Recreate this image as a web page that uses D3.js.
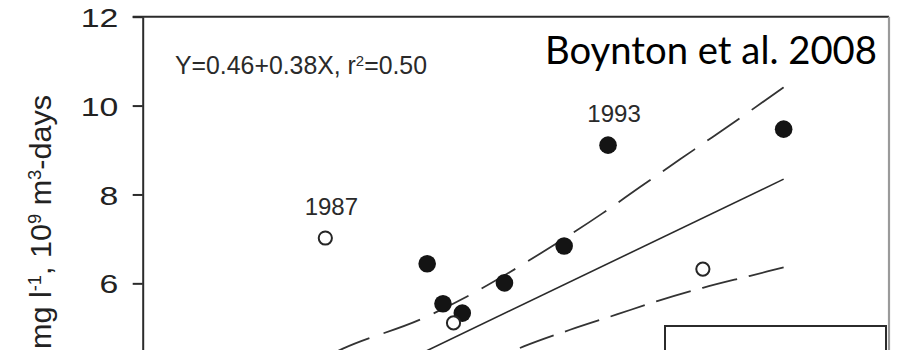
<!DOCTYPE html>
<html>
<head>
<meta charset="utf-8">
<script src="https://cdn.jsdelivr.net/npm/d3@7/dist/d3.min.js"></script>
<style>
  html, body { margin: 0; padding: 0; background: #fff; }
  svg { display: block; }
</style>
</head>
<body>
<svg id="chart" width="900" height="350"></svg>
<script>
// Hypoxic volume-days against load, with least-squares fit and confidence band
const yTicks = [6, 8, 10, 12];

// filled symbols (years used in the fit)
const filledX = [10.6, 11.05, 11.6, 12.8, 14.5, 15.75, 20.75];
const filledY = [6.44, 5.54, 5.33, 6.01, 6.84, 9.11, 9.47];

// open symbols (years excluded from the fit)
const openX = [7.7, 11.35, 18.45];
const openY = [7.02, 5.11, 6.32];

// annotated years
const labelYears = ["1987", "1993"];
const labelX = [7.7, 15.75];
const labelY = [7.02, 9.11];

// regression Y = a + bX
const fitA = 0.46;
const fitB = 0.38;
const fitR2 = 0.50;
const fitRange = [7.7, 20.75];

// 95% confidence band
const upperX = [7.9, 8.2, 10.5, 11.75, 12.95, 13.8, 15.6, 16.65, 17.8, 18.5, 19.4, 20.75];
const upperY = [4.42, 4.53, 5.22, 5.71, 6.25, 6.66, 7.58, 8.16, 8.79, 9.17, 9.66, 10.41];
const lowerX = [13.1, 13.35, 14.65, 16.0, 17.15, 18.45, 19.8, 20.75];
const lowerY = [4.5, 4.58, 4.95, 5.3, 5.6, 5.9, 6.17, 6.36];

(function () {
  const svg = d3.select("#chart");
  const mLeft = 142.7, mRight = 889, mTop = 16.7, mBottom = 350;

  const x = d3.scaleLinear().domain([2.5, 23.75]).range([mLeft, mRight]);
  const y = d3.scaleLinear().domain([4.5, 12]).range([mBottom, mTop]);

  const ink = "#2b2b2b";
  const font = "'Liberation Sans', Arial, sans-serif";

  svg.append("defs").append("clipPath").attr("id", "plot")
    .append("rect").attr("x", mLeft).attr("y", mTop)
    .attr("width", mRight - mLeft).attr("height", mBottom - mTop);

  // frame: top edge and light right edge
  svg.append("line").attr("x1", mLeft - 10).attr("x2", mRight).attr("y1", mTop).attr("y2", mTop)
    .attr("stroke", ink).attr("stroke-width", 2);
  svg.append("line").attr("x1", mRight).attr("x2", mRight).attr("y1", mTop).attr("y2", mBottom)
    .attr("stroke", "#9a9a9a").attr("stroke-width", 2.2);

  // y axis
  const sx = 1.3;
  const yAxis = svg.append("g").attr("transform", `translate(${mLeft},0)`)
    .call(d3.axisLeft(y).tickValues(yTicks).tickSize(10).tickSizeOuter(0).tickFormat(d3.format("d")));
  yAxis.select(".domain").attr("stroke", ink).attr("stroke-width", 2);
  yAxis.selectAll(".tick line").attr("stroke", ink).attr("stroke-width", 2);
  yAxis.selectAll(".tick text")
    .attr("fill", "#222").attr("font-family", font).attr("font-size", 26)
    .attr("x", -24.5 / sx).attr("dy", "0.37em")
    .attr("transform", `scale(${sx},1)`);

  // y axis title (rotated)
  const yTitle = svg.append("text")
    .attr("transform", "translate(51,349) rotate(-90)")
    .attr("font-family", font).attr("font-size", 30).attr("fill", "#222")
    .attr("text-anchor", "start")
    .attr("textLength", 254).attr("lengthAdjust", "spacingAndGlyphs");
  yTitle.append("tspan").text("mg l");
  yTitle.append("tspan").attr("baseline-shift", "super").attr("font-size", 18).text("-1");
  yTitle.append("tspan").text(", 10");
  yTitle.append("tspan").attr("baseline-shift", "super").attr("font-size", 18).text("9");
  yTitle.append("tspan").text(" m");
  yTitle.append("tspan").attr("baseline-shift", "super").attr("font-size", 18).text("3");
  yTitle.append("tspan").text("-days");

  const plot = svg.append("g").attr("clip-path", "url(#plot)");

  // confidence band (drawn from the right end so the dashes start there)
  const bandLine = d3.line().x(d => x(d[0])).y(d => y(d[1])).curve(d3.curveMonotoneX);
  const upper = upperX.map((v, i) => [v, upperY[i]]);
  const lower = lowerX.map((v, i) => [v, lowerY[i]]);
  plot.append("path").attr("d", bandLine(upper.slice().reverse()))
    .attr("fill", "none").attr("stroke", "#333").attr("stroke-width", 1.8)
    .attr("stroke-dasharray", "39,15");
  plot.append("path").attr("d", bandLine(lower.slice().reverse()))
    .attr("fill", "none").attr("stroke", "#333").attr("stroke-width", 1.8)
    .attr("stroke-dasharray", "36,12");

  // regression line
  plot.append("line")
    .attr("x1", x(fitRange[0])).attr("y1", y(fitA + fitB * fitRange[0]))
    .attr("x2", x(fitRange[1])).attr("y2", y(fitA + fitB * fitRange[1]))
    .attr("stroke", "#2a2a2a").attr("stroke-width", 1.6);

  // points
  plot.selectAll("circle.filled").data(filledX.map((v, i) => [v, filledY[i]]))
    .join("circle").attr("class", "filled")
    .attr("cx", d => x(d[0])).attr("cy", d => y(d[1])).attr("r", 8.8)
    .attr("fill", "#141414");
  plot.selectAll("circle.open").data(openX.map((v, i) => [v, openY[i]]))
    .join("circle").attr("class", "open")
    .attr("cx", d => x(d[0])).attr("cy", d => y(d[1])).attr("r", 6.6)
    .attr("fill", "#fff").attr("stroke", "#262626").attr("stroke-width", 2);

  // year annotations
  svg.selectAll("text.year").data(labelYears)
    .join("text").attr("class", "year")
    .attr("x", (d, i) => x(labelX[i]) + 6).attr("y", (d, i) => y(labelY[i]) - 23)
    .attr("text-anchor", "middle")
    .attr("font-family", font).attr("font-size", 24).attr("fill", "#2a2a2a")
    .text(d => d);

  // fit equation
  const eq = svg.append("text").attr("x", 175).attr("y", 74)
    .attr("font-family", font).attr("font-size", 25).attr("fill", "#2a2a2a")
    .attr("textLength", 252).attr("lengthAdjust", "spacingAndGlyphs");
  eq.append("tspan").text(`Y=${fitA.toFixed(2)}+${fitB.toFixed(2)}X, r`);
  eq.append("tspan").attr("baseline-shift", "super").attr("font-size", 15).text("2");
  eq.append("tspan").text(`=${fitR2.toFixed(2)}`);

  // source note
  svg.append("text").attr("x", 545).attr("y", 64)
    .attr("font-family", "Lato, 'Open Sans', sans-serif").attr("font-size", 38).attr("fill", "#000")
    .attr("textLength", 332).attr("lengthAdjust", "spacingAndGlyphs")
    .text("Boynton et al. 2008");

  // legend box
  svg.append("rect").attr("x", 665).attr("y", 326).attr("width", 221).attr("height", 60)
    .attr("fill", "#fff").attr("stroke", ink).attr("stroke-width", 2);
})();
</script>
</body>
</html>
